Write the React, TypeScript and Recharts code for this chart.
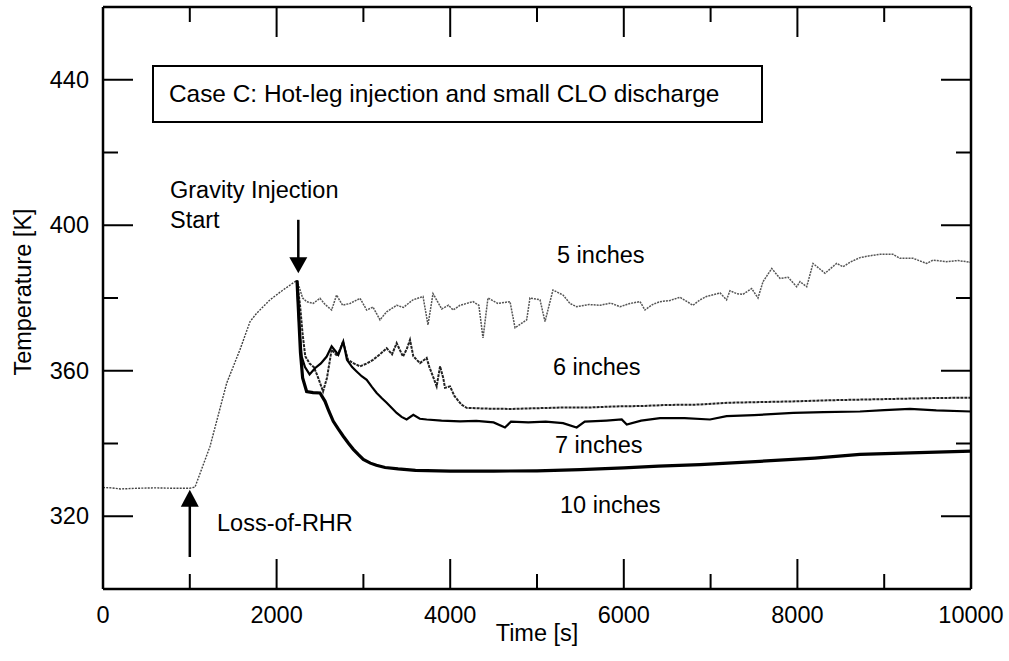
import React from 'react';
import { LineChart, Line, XAxis, YAxis, ReferenceLine, ReferenceDot } from 'recharts';

const FONT = '"Liberation Sans", Arial, Helvetica, sans-serif';
const FS = 23.5;

// Axis ticks
const xTicks = [0, 1000, 2000, 3000, 4000, 5000, 6000, 7000, 8000, 9000, 10000];
const xLabelTicks = [0, 2000, 4000, 6000, 8000, 10000];
const yTicks = [320, 340, 360, 380, 400, 420, 440];
const yLabelTicks = [320, 360, 400, 440];

// Common heat-up portion (before gravity injection)
const preTime = [0, 100, 200, 400, 600, 800, 1000, 1060, 1233, 1425, 1578, 1694, 1770, 1924, 2074, 2212, 2235];
const preTemp = [327.9, 327.8, 327.5, 327.7, 327.8, 327.7, 327.7, 328.0, 339.2, 356.6, 365.8, 373.5, 375.8, 379.5, 382.2, 384.5, 384.8];

// 5 inches
const time5 = [2235, 2260, 2300, 2346, 2420, 2500, 2560, 2634, 2691, 2760, 2846, 2961, 3038, 3110, 3191, 3268, 3383, 3460, 3571, 3687, 3744, 3802, 3902, 3980, 4034, 4113, 4263, 4330, 4378, 4435, 4550, 4689, 4747, 4881, 4919, 5035, 5092, 5184, 5300, 5380, 5457, 5600, 5726, 5850, 5956, 6070, 6187, 6244, 6330, 6417, 6530, 6647, 6797, 6878, 6951, 7108, 7184, 7223, 7300, 7373, 7473, 7546, 7604, 7704, 7800, 7892, 7992, 8030, 8107, 8180, 8318, 8452, 8525, 8620, 8721, 8830, 8951, 9101, 9182, 9332, 9489, 9562, 9719, 9850, 10000];
const temp5 = [384.8, 383, 380, 379, 378.5, 379.9, 378.2, 376.7, 380.8, 378, 378.5, 379.9, 376.7, 377.5, 374, 376.2, 378, 377.4, 379.5, 380.4, 372.6, 381.2, 377, 378, 376.7, 378, 379, 378, 369, 380, 378.5, 379, 371.8, 374, 380, 379.5, 373.5, 382.2, 380.8, 378.5, 377.6, 378.2, 378, 378.6, 377.6, 378.5, 379, 376.7, 378.2, 379, 379.3, 380.2, 378, 379.5, 380.4, 381.4, 379.5, 382, 381.2, 381, 382.6, 380, 384.5, 388.1, 385.4, 385.7, 383.1, 384.5, 383.1, 389.5, 386.8, 389.5, 388.6, 390, 391.1, 391.6, 392, 392, 390.9, 390.9, 389.5, 390.4, 390, 390.3, 389.8];

// 6 inches
const time6 = [2235, 2270, 2300, 2330, 2380, 2430, 2480, 2535, 2580, 2634, 2700, 2765, 2823, 2890, 2961, 3040, 3111, 3190, 3268, 3330, 3383, 3456, 3500, 3537, 3575, 3614, 3652, 3729, 3760, 3802, 3844, 3883, 3920, 3940, 3998, 4050, 4130, 4189, 4400, 4700, 5000, 5300, 5600, 5900, 6200, 6500, 6878, 7200, 7600, 8000, 8400, 8800, 9200, 9600, 10000];
const temp6 = [384.8, 378, 370, 364, 362, 361, 358, 354.3, 358, 365.8, 364, 368, 363, 362, 361.2, 362, 363, 364.5, 366.2, 364.5, 367.6, 363.9, 366, 368.5, 364, 363, 362.1, 363.5, 361, 358.4, 355.7, 361.2, 358, 355.3, 355.7, 353, 350.7, 349.8, 349.6, 349.5, 349.7, 349.9, 349.9, 350.2, 350.3, 350.6, 350.7, 351.2, 351.4, 351.6, 351.9, 352.1, 352.3, 352.5, 352.6];

// 7 inches
const time7 = [2235, 2262, 2289, 2327, 2380, 2442, 2510, 2577, 2634, 2711, 2768, 2811, 2870, 2922, 2980, 3038, 3100, 3153, 3210, 3268, 3330, 3383, 3440, 3498, 3575, 3650, 3729, 3900, 4113, 4300, 4500, 4631, 4700, 4900, 5100, 5300, 5457, 5550, 5800, 5976, 6034, 6200, 6417, 6700, 6993, 7184, 7500, 7953, 8300, 8721, 9000, 9297, 9600, 10000];
const temp7 = [384.8, 372, 363.9, 361, 359, 360.7, 362, 363.9, 366.7, 364.4, 368, 363, 361, 359.8, 358.5, 357.5, 355.5, 353.9, 352.5, 351.2, 349.7, 348.4, 347.3, 346.6, 347.9, 346.8, 346.6, 346.3, 346.1, 346.2, 345.8, 344.4, 346, 345.8, 346, 345.6, 344.4, 346, 346.3, 346.6, 345.2, 346.3, 347, 347, 346.6, 347.5, 347.8, 348.4, 348.6, 348.8, 349.2, 349.5, 349.1, 348.8];

// 10 inches
const time10 = [2235, 2255, 2275, 2300, 2346, 2420, 2500, 2558, 2600, 2653, 2710, 2768, 2830, 2884, 2940, 2999, 3080, 3150, 3250, 3400, 3600, 4000, 4500, 5000, 5500, 6000, 6400, 6878, 7569, 8200, 8721, 9300, 10000];
const temp10 = [384.8, 375, 365, 358, 354.3, 354, 353.9, 351.6, 349, 346.1, 344, 342, 340, 338.4, 337, 335.6, 334.6, 334, 333.4, 333, 332.6, 332.4, 332.4, 332.5, 332.8, 333.3, 333.8, 334.2, 335.1, 336, 337, 337.4, 337.9];

const toPts = (ts: number[], vs: number[]) => ts.map((t, i) => ({ t, T: vs[i] }));

const preData = toPts(preTime, preTemp);
const data5 = toPts(time5, temp5);
const data6 = toPts(time6, temp6);
const data7 = toPts(time7, temp7);
const data10 = toPts(time10, temp10);

const MAJOR = 30;
const MINOR = 15;

const BottomTick = (p: any) => {
  const v = p.payload.value;
  const edge = v === 0 || v === 10000;
  const major = xLabelTicks.includes(v);
  return (
    <g>
      {!edge && <line x1={p.x} x2={p.x} y1={p.y} y2={p.y - (major ? MAJOR : MINOR)} stroke="#000" strokeWidth={2} />}
      {major && (
        <text x={p.x} y={p.y + 34} textAnchor="middle" fontSize={FS} fontFamily={FONT} fill="#000">{v}</text>
      )}
    </g>
  );
};

const TopTick = (p: any) => {
  const v = p.payload.value;
  const edge = v === 0 || v === 10000;
  const major = xLabelTicks.includes(v);
  if (edge) return <g />;
  return <line x1={p.x} x2={p.x} y1={p.y} y2={p.y + (major ? MAJOR : MINOR)} stroke="#000" strokeWidth={2} />;
};

const LeftTick = (p: any) => {
  const v = p.payload.value;
  const major = yLabelTicks.includes(v);
  return (
    <g>
      <line x1={p.x} x2={p.x + (major ? MAJOR : MINOR)} y1={p.y} y2={p.y} stroke="#000" strokeWidth={2} />
      {major && (
        <text x={p.x - 14} y={p.y + 8} textAnchor="end" fontSize={FS} fontFamily={FONT} fill="#000">{v}</text>
      )}
    </g>
  );
};

const RightTick = (p: any) => {
  const v = p.payload.value;
  const major = yLabelTicks.includes(v);
  return <line x1={p.x} x2={p.x - (major ? MAJOR : MINOR)} y1={p.y} y2={p.y} stroke="#000" strokeWidth={2} />;
};

const DownHead = (p: any) => (
  <path d={`M${p.cx},${p.cy} L${p.cx - 9},${p.cy - 16} L${p.cx + 9},${p.cy - 16} Z`} fill="#000" />
);
const UpHead = (p: any) => (
  <path d={`M${p.cx},${p.cy} L${p.cx - 9},${p.cy + 17} L${p.cx + 9},${p.cy + 17} Z`} fill="#000" />
);

const txt = { fontFamily: FONT, fontSize: FS, fill: '#000' } as const;

export default function App() {
  return (
    <div style={{ position: 'absolute', left: 0, top: 0, width: 1009, height: 661, background: '#fff' }}>
      <LineChart width={1009} height={661} margin={{ top: 2, right: 8, bottom: 12, left: 43 }}>
        <XAxis xAxisId="b" dataKey="t" type="number" domain={[0, 10000]} ticks={xTicks} interval={0}
          height={60} tickSize={0} tickMargin={0} tickLine={false} tick={<BottomTick />}
          axisLine={{ stroke: '#000', strokeWidth: 2.5 }} allowDataOverflow />
        <XAxis xAxisId="t" orientation="top" dataKey="t" type="number" domain={[0, 10000]} ticks={xTicks} interval={0}
          height={5} tickSize={0} tickMargin={0} tickLine={false} tick={<TopTick />}
          axisLine={{ stroke: '#000', strokeWidth: 2.5 }} allowDataOverflow />
        <YAxis yAxisId="l" type="number" domain={[300, 460]} ticks={yTicks} interval={0}
          width={60} tickSize={0} tickMargin={0} tickLine={false} tick={<LeftTick />}
          axisLine={{ stroke: '#000', strokeWidth: 2.5 }} allowDataOverflow />
        <YAxis yAxisId="r" orientation="right" type="number" domain={[300, 460]} ticks={yTicks} interval={0}
          width={30} tickSize={0} tickMargin={0} tickLine={false} tick={<RightTick />}
          axisLine={{ stroke: '#000', strokeWidth: 2.5 }} allowDataOverflow />

        <Line xAxisId="b" yAxisId="l" data={preData} dataKey="T" type="linear" stroke="#444" strokeWidth={1.4}
          strokeDasharray="2 1.2" dot={false} isAnimationActive={false} />
        <Line xAxisId="b" yAxisId="l" data={data5} dataKey="T" type="linear" stroke="#555" strokeWidth={1.5}
          strokeDasharray="2 1" dot={false} isAnimationActive={false} />
        <Line xAxisId="b" yAxisId="l" data={data6} dataKey="T" type="linear" stroke="#222" strokeWidth={2}
          strokeDasharray="3 1" dot={false} isAnimationActive={false} />
        <Line xAxisId="b" yAxisId="l" data={data7} dataKey="T" type="linear" stroke="#000" strokeWidth={2.2}
          dot={false} isAnimationActive={false} />
        <Line xAxisId="b" yAxisId="l" data={data10} dataKey="T" type="linear" stroke="#000" strokeWidth={3.2}
          dot={false} isAnimationActive={false} />

        {/* Gravity injection arrow */}
        <ReferenceLine xAxisId="b" yAxisId="l" segment={[{ x: 2250, y: 401.5 }, { x: 2250, y: 390 }]} stroke="#000" strokeWidth={2.5} />
        <ReferenceDot xAxisId="b" yAxisId="l" x={2250} y={386.8} r={1} shape={<DownHead />} />
        {/* Loss-of-RHR arrow */}
        <ReferenceLine xAxisId="b" yAxisId="l" segment={[{ x: 1000, y: 308.8 }, { x: 1000, y: 323.5 }]} stroke="#000" strokeWidth={2.5} />
        <ReferenceDot xAxisId="b" yAxisId="l" x={1000} y={327.3} r={1} shape={<UpHead />} />
      </LineChart>

      <svg width={1009} height={661} style={{ position: 'absolute', left: 0, top: 0, pointerEvents: 'none' }}>
        <rect x={153} y={66} width={609} height={56} fill="none" stroke="#000" strokeWidth={2} />
        <text x={169} y={102} {...txt} fontSize={24.4}>Case C: Hot-leg injection and small CLO discharge</text>
        <text x={170} y={198} {...txt}>Gravity Injection</text>
        <text x={170} y={228} {...txt}>Start</text>
        <text x={217} y={531} {...txt}>Loss-of-RHR</text>
        <text x={557} y={263} {...txt}>5 inches</text>
        <text x={553} y={375} {...txt}>6 inches</text>
        <text x={555} y={453} {...txt}>7 inches</text>
        <text x={560} y={513} {...txt}>10 inches</text>
        <text x={537} y={641} textAnchor="middle" {...txt}>Time [s]</text>
        <text x={0} y={0} transform="translate(31,292) rotate(-90)" textAnchor="middle" {...txt}>Temperature [K]</text>
      </svg>
    </div>
  );
}
